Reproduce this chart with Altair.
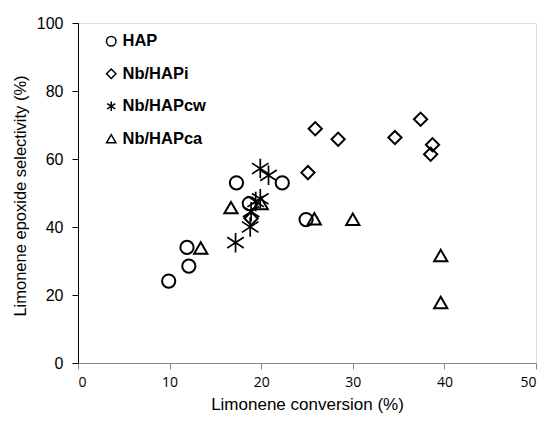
import altair as alt
import pandas as pd

series_names = ["HAP", "Nb/HAPi", "Nb/HAPcw", "Nb/HAPca"]

hap_x = [9.9, 12.1, 11.9, 17.3, 18.7, 22.3, 24.9]
hap_y = [24.1, 28.5, 34.0, 53.0, 46.9, 53.0, 42.2]

nbi_x = [18.9, 25.1, 25.9, 28.4, 34.6, 37.4, 38.7, 38.5]
nbi_y = [42.5, 56.0, 68.9, 65.8, 66.3, 71.7, 64.2, 61.4]

nbcw_x = [19.9, 20.8, 17.2, 18.8, 18.9, 19.4, 19.9]
nbcw_y = [57.2, 55.2, 35.4, 40.0, 44.5, 47.5, 48.3]

nbca_x = [16.7, 13.4, 20.0, 25.8, 30.0, 39.6, 39.6]
nbca_y = [45.7, 33.8, 46.9, 42.4, 42.3, 31.6, 17.8]

y_title = "Limonene epoxide selectivity (%)"

rows = []
for name, xs, ys in zip(series_names, [hap_x, nbi_x, nbcw_x, nbca_x], [hap_y, nbi_y, nbcw_y, nbca_y]):
    for xv, yv in zip(xs, ys):
        rows.append({"series": name, "conv": xv, "sel": yv})
df = pd.DataFrame(rows)

star = "M0,-1L0,1M-0.85,-0.55L0.85,0.55M-0.85,0.55L0.85,-0.55"
shapes = ["circle", "diamond", star, "triangle-up"]

x_enc = alt.X("conv:Q", title="Limonene conversion (%)",
              scale=alt.Scale(domain=[0, 50], nice=False),
              axis=alt.Axis(values=[0, 10, 20, 30, 40, 50], grid=False, domainColor="#888888",
                            tickColor="#888888", tickSize=6, labelFont="Open Sans", labelFontSize=14,
                            labelColor="black", labelPadding=6, titleFont="Liberation Sans",
                            titleFontSize=17, titleFontWeight="normal", titleColor="black",
                            titlePadding=7))
y_enc = alt.Y("sel:Q", title=None,
              scale=alt.Scale(domain=[0, 100], nice=False),
              axis=alt.Axis(values=[0, 20, 40, 60, 80, 100], grid=False, domainColor="black",
                            tickColor="black", tickSize=6, labelFont="Liberation Sans", labelFontSize=16,
                            labelColor="black", labelPadding=9))
shape_enc = alt.Shape("series:N", scale=alt.Scale(domain=series_names, range=shapes),
                      legend=alt.Legend(title=None, orient="none", legendX=25, legendY=10,
                                        labelFont="Liberation Sans", labelFontSize=16.5,
                                        labelFontWeight="bold", labelColor="black",
                                        symbolSize=90, symbolStrokeWidth=1.5,
                                        symbolStrokeColor="black", symbolFillColor="transparent",
                                        rowPadding=15.5, labelOffset=3))

base = alt.Chart(df).encode(x=x_enc, y=y_enc, shape=shape_enc)

others = base.transform_filter(alt.datum.series != "Nb/HAPcw").mark_point(
    filled=False, strokeWidth=2, color="black", opacity=1, size=175)
stars = base.transform_filter(alt.datum.series == "Nb/HAPcw").mark_point(
    filled=False, strokeWidth=1.7, color="black", opacity=1, size=380)

ytitle = alt.Chart(pd.DataFrame({"t": [y_title]})).mark_text(
    angle=270, font="Liberation Sans", fontSize=16.5, color="black", align="center", baseline="middle"
).encode(text="t:N", x=alt.value(-57), y=alt.value(173))

chart = alt.layer(others, stars, ytitle).properties(
    width=458, height=340,
    autosize=alt.AutoSizeParams(type="none"),
    padding={"left": 78, "top": 23, "right": 11, "bottom": 64},
).configure_view(stroke="black", strokeWidth=1.5).configure(background="white")

chart.save("out.html", embed_options={"renderer": "svg", "actions": False})
